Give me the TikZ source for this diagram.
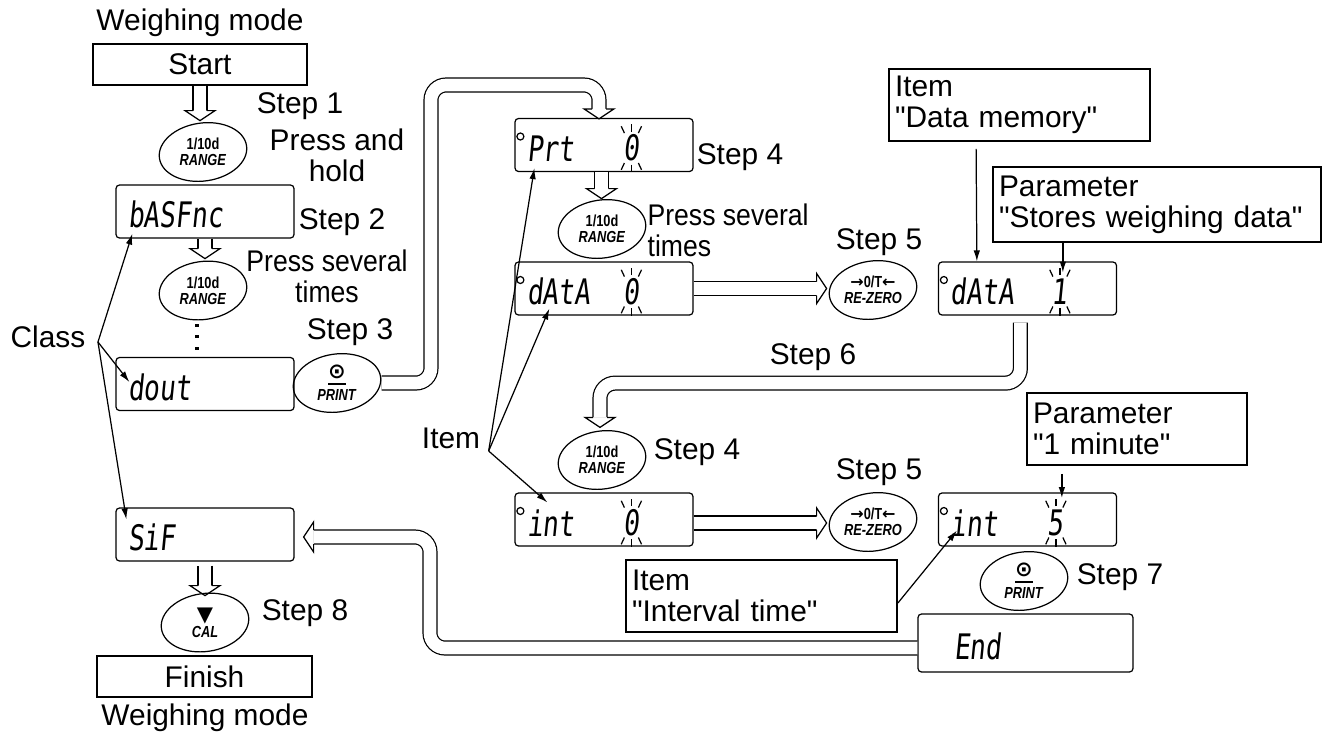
\documentclass[tikz,border=0pt]{standalone}
\usepackage{fontspec}
\setmainfont{Liberation Sans}
\newfontfamily\keyfont[FakeStretch=0.8]{Liberation Sans}
\newfontfamily\narrowfont[FakeStretch=0.89]{Liberation Sans}
\newfontfamily\segfont[FakeStretch=0.75,FakeSlant=0.1]{DejaVu Sans Mono}
\newfontfamily\symfont{DejaVu Sans}
\usetikzlibrary{arrows.meta,positioning,calc,shapes.geometric}
\tikzset{
  lbl/.style={inner sep=0pt,font=\fontsize{8.5}{8.8}\selectfont},
  nlbl/.style={inner sep=0pt,font=\narrowfont\fontsize{8.5}{8.8}\selectfont},
  modebox/.style={draw,minimum width=2.14cm,minimum height=0.41cm,inner sep=0pt,
    font=\fontsize{8.5}{8.8}\selectfont},
  disp/.style={draw,rounded corners=1pt,minimum width=1.78cm,minimum height=0.53cm,
    text width=1.54cm,text height=0.33cm,align=left,inner sep=0pt,
    font=\segfont\fontsize{10}{10}\selectfont},
  val/.style={inner sep=0pt,font=\segfont\fontsize{10}{10}\selectfont},
  key/.style={minimum width=0.88cm,minimum height=0.58cm,inner sep=0pt,align=center,
    font=\keyfont\bfseries\fontsize{4.55}{4.6}\selectfont},
  info/.style={draw,line width=0.5pt,align=left,inner sep=0.06cm,minimum height=0.72cm,
    font=\fontsize{8.5}{8.8}\selectfont},
  hollow/.style={double,double distance=3.6pt,line width=0.35pt},
  ptr/.style={-{Latex[length=1.1mm,width=0.65mm]}},
  hhead/.pic={\draw[fill=white] (-0.07,0) -- (-0.15,0) -- (0,-0.1) -- (0.15,0) -- (0.07,0);}
}
\begin{document}
\begin{tikzpicture}[line width=0.35pt]
  \useasboundingbox (0,0) rectangle (13.27,-7.38);
  % Left column
  \node[lbl] (wm1) at (2.00,-0.23) {Weighing mode};
  \node[modebox] (start) at (2.00,-0.645) {Start};
  \node[key] (rng1) at (2.03,-1.52) {1/10d\\\textit{RANGE}};
  \node[lbl] (s1) at (3.00,-1.06) {Step 1};
  \node[lbl,align=center] (s1t) at (3.37,-1.55) {Press and\\hold};
  \node[disp] (basfnc) at (2.05,-2.115) {bASFnc};
  \node[lbl] (s2) at (3.42,-2.22) {Step 2};
  \node[key] (rng2) at (2.03,-2.905) {1/10d\\\textit{RANGE}};
  \node[nlbl,align=center] (s2t) at (3.27,-2.765) {Press several\\times};
  \node[lbl] (s3) at (3.50,-3.32) {Step 3};
  \node[disp] (dout) at (2.05,-3.84) {dout};
  \node[key] (prt1) at (3.37,-3.83) {\underline{{\symfont\fontsize{6}{5}\selectfont ⊙}}\\\textit{PRINT}};
  \node[lbl] (cls) at (0.48,-3.37) {Class};
  \node[disp] (sif) at (2.05,-5.345) {SiF};
  \node[key] (cal) at (2.05,-6.225) {{\symfont\fontsize{6}{5}\selectfont ▼}\\\textit{CAL}};
  \node[lbl] (s8) at (3.05,-6.13) {Step 8};
  \node[modebox,minimum width=2.15cm] (finish) at (2.045,-6.765) {Finish};
  \node[lbl] (wm2) at (2.05,-7.18) {Weighing mode};
  % Middle column
  \node[disp] (prt) at (6.04,-1.45) {Prt};
  \node[val] (prtv) at ($(prt.west)+(1.17,-0.03)$) {0};
  \node[lbl] (s4a) at (7.40,-1.57) {Step 4};
  \node[key] (rng3) at (6.02,-2.29) {1/10d\\\textit{RANGE}};
  \node[nlbl,align=left,anchor=west] (s4t) at (6.47,-2.30) {Press several\\times};
  \node[disp] (data0) at (6.04,-2.885) {dAtA};
  \node[val] (data0v) at ($(data0.west)+(1.17,-0.03)$) {0};
  \node[lbl] (s5a) at (8.79,-2.42) {Step 5};
  \node[key] (rz1) at (8.73,-2.90) {{\symfont →}0/T{\symfont ←}\\\textit{RE-ZERO}};
  \node[lbl] (s6) at (8.13,-3.57) {Step 6};
  \node[lbl] (itm) at (4.51,-4.38) {Item};
  \node[key] (rng4) at (6.02,-4.60) {1/10d\\\textit{RANGE}};
  \node[lbl] (s4b) at (6.97,-4.52) {Step 4};
  \node[disp] (int0) at (6.04,-5.195) {int};
  \node[val] (int0v) at ($(int0.west)+(1.17,-0.03)$) {0};
  \node[lbl] (s5b) at (8.79,-4.72) {Step 5};
  \node[key] (rz2) at (8.73,-5.22) {{\symfont →}0/T{\symfont ←}\\\textit{RE-ZERO}};
  \node[info,text width=2.59cm] (item2) at (7.615,-5.96) {Item\\\textquotedbl Interval time\textquotedbl};
  % Right column
  \node[info,text width=2.49cm] (item1) at (10.195,-1.05) {Item\\\textquotedbl Data memory\textquotedbl};
  \node[info,text width=3.16cm,minimum height=0.75cm] (par1) at (11.57,-2.045) {Parameter\\\textquotedbl Stores weighing data\textquotedbl};
  \node[disp] (data1) at (10.275,-2.885) {dAtA};
  \node[val] (data1v) at ($(data1.west)+(1.22,-0.03)$) {1};
  \node[info,text width=2.08cm] (par2) at (11.37,-4.29) {Parameter\\\textquotedbl 1 minute\textquotedbl};
  \node[disp] (int5) at (10.275,-5.195) {int};
  \node[val] (int5v) at ($(int5.west)+(1.18,-0.03)$) {5};
  \node[key] (prt2) at (10.24,-5.81) {\underline{{\symfont\fontsize{6}{5}\selectfont ⊙}}\\\textit{PRINT}};
  \node[lbl] (s7) at (11.20,-5.77) {Step 7};
  \node[disp,minimum width=2.15cm,minimum height=0.58cm,text width=1.43cm] (end) at (10.255,-6.43) {End};
  % Display marks
  \foreach \bx in {prt,data0,int0,data1,int5}
    \draw ($(\bx.west)+(0.06,0.085)$) circle (0.035);
  \foreach \v in {prtv,data0v,int0v,data1v,int5v}
    \foreach \a in {65,90,115,245,270,295}
      \draw ($(\v.center)+(\a:0.165)$) -- ($(\v.center)+(\a:0.24)$);
  \foreach \dy in {0.335,0.445,0.565}
    \draw[line width=1.3pt] ($(rng2.center)+(-0.06,-\dy)$) -- ++(0,-0.03);
  % Short hollow arrows
  \draw[hollow] (start.south) -- ++(0,-0.25);
  \pic at ($(start.south)+(0,-0.25)$) {hhead};
  \draw[hollow] (basfnc.south) -- ++(0,-0.10);
  \pic at ($(basfnc.south)+(0,-0.10)$) {hhead};
  \draw[hollow] ($(sif.south)+(0,-0.04)$) -- ++(0,-0.20);
  \pic at ($(sif.south)+(0,-0.24)$) {hhead};
  \draw[hollow] ($(prt.south)+(-0.025,0)$) -- ++(0,-0.165);
  \pic at ($(prt.south)+(-0.025,-0.165)$) {hhead};
  \draw[hollow] (data0.east) -- ++(1.23,0);
  \pic[rotate=90] at ($(data0.east)+(1.23,0)$) {hhead};
  \draw[hollow] ($(int0.east)+(0,-0.035)$) -- ++(1.23,0);
  \pic[rotate=90] at ($(int0.east)+(1.23,-0.035)$) {hhead};
  % Step 3 channel
  \draw[hollow,rounded corners=0.15cm] (prt1.east) -| (4.31,-0.85) -| ($(prt.north)+(-0.05,0.09)$);
  \pic at ($(prt.north)+(-0.05,0.09)$) {hhead};
  % Step 6 channel
  \draw[hollow,rounded corners=0.15cm] ($(data1.south west)+(0.825,-0.07)$) -- ++(0,-0.605)
    -| ($(rng4.north)+(-0.02,0.13)$);
  \pic at ($(rng4.north)+(-0.02,0.13)$) {hhead};
  % Return channel
  \draw[hollow,rounded corners=0.15cm] ($(end.west)+(0,-0.05)$) -| (4.30,-5.37)
    -- ($(sif.east)+(0.19,-0.025)$);
  \pic[rotate=-90] at ($(sif.east)+(0.19,-0.025)$) {hhead};
  % Keys
  \foreach \k in {rng1,rng2,rng3,rng4,prt1,prt2,rz1,rz2,cal}
    \draw[rotate around={8:(\k.center)}] (\k.center) ellipse (0.44 and 0.29);
  % Class pointers
  \coordinate (clsfan) at ($(cls.east)+(0.12,-0.05)$);
  \draw[ptr] (clsfan) -- ($(basfnc.south west)+(0.17,0.05)$);
  \draw[ptr] (clsfan) -- ($(dout.west)+(0.14,0.02)$);
  \draw[ptr] (clsfan) -- ($(sif.north west)+(0.11,-0.12)$);
  % Item pointers
  \coordinate (itmfan) at ($(itm.east)+(0.08,-0.13)$);
  \draw[ptr] (itmfan) -- ($(prt.south west)+(0.20,0.04)$);
  \draw[ptr] (itmfan) -- ($(data0.south west)+(0.35,0.07)$);
  \draw[ptr] (itmfan) -- ($(int0.north west)+(0.33,-0.10)$);
  \draw[ptr] ($(item1.south west)+(0.88,-0.07)$) -- ($(data1.north west)+(0.39,0)$);
  \draw[ptr] ($(item2.east)+(0,-0.07)$) -- ($(int5.south west)+(0.19,0.16)$);
  % Parameter pointers
  \coordinate (d1top) at ($(data1v.center)+(0.03,0.19)$);
  \draw[ptr] (d1top |- par1.south) -- (d1top);
  \coordinate (i5top) at ($(int5v.center)+(0.06,0.245)$);
  \draw[ptr] ($(i5top |- par2.south)+(0,-0.08)$) -- (i5top);
\end{tikzpicture}
\end{document}
